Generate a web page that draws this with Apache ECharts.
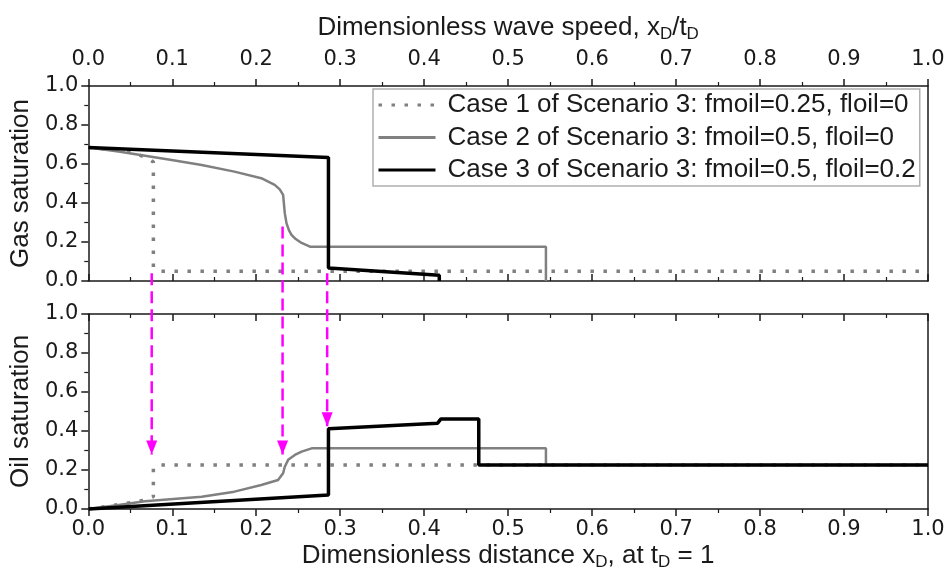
<!DOCTYPE html>
<html>
<head>
<meta charset="utf-8">
<script src="https://cdn.jsdelivr.net/npm/echarts@6/dist/echarts.min.js"></script>
<style>html,body{margin:0;padding:0;background:#fff}#c{width:948px;height:579px}</style>
</head>
<body>
<div id="c"></div>
<script>
// ---- data ----
const seriesNames = [
  'Case 1 of Scenario 3: fmoil=0.25, floil=0',
  'Case 2 of Scenario 3: fmoil=0.5, floil=0',
  'Case 3 of Scenario 3: fmoil=0.5, floil=0.2'
];
// Gas saturation (top panel)
const case1GasX = [0, 0.03, 0.055, 0.068, 0.0775, 0.0775, 0.085, 1.0];
const case1GasY = [0.685, 0.672, 0.655, 0.635, 0.61, 0.07, 0.05, 0.05];
const case2GasX = [0, 0.036, 0.0993, 0.135, 0.174, 0.206, 0.222, 0.228, 0.232, 0.234, 0.236, 0.239, 0.242, 0.247, 0.254, 0.264, 0.545, 0.545];
const case2GasY = [0.685, 0.664, 0.621, 0.595, 0.561, 0.527, 0.493, 0.47, 0.442, 0.348, 0.297, 0.26, 0.237, 0.215, 0.195, 0.176, 0.176, 0];
const case3GasX = [0, 0.286, 0.286, 0.418, 0.418];
const case3GasY = [0.685, 0.633, 0.067, 0.03, 0];
// Oil saturation (bottom panel)
const case1OilX = [0, 0.04, 0.0675, 0.0775, 0.0775, 0.083, 1.0];
const case1OilY = [0, 0.025, 0.046, 0.063, 0.209, 0.226, 0.226];
const case2OilX = [0, 0.036, 0.0675, 0.135, 0.174, 0.206, 0.226, 0.232, 0.234, 0.238, 0.246, 0.254, 0.266, 0.545, 0.545, 1.0];
const case2OilY = [0, 0.02, 0.04, 0.063, 0.089, 0.123, 0.149, 0.183, 0.217, 0.252, 0.277, 0.294, 0.311, 0.311, 0.226, 0.226];
const case3OilX = [0, 0.286, 0.286, 0.416, 0.42, 0.465, 0.465, 1.0];
const case3OilY = [0, 0.072, 0.412, 0.44, 0.462, 0.462, 0.226, 0.226];
// Magenta arrows: from gas panel value down to oil panel value
const arrowX = [0.0775, 0.233, 0.286];
const arrowFromGas = [0.04, 0.28, 0.04];
const arrowToOil = [0.28, 0.28, 0.425];

// ---- layout ----
const LEFT = 86.5, PLOT_W = 841.5, TOP = 86, PLOT_H = 195, GAP = 33;
const BOTTOM_TOP = TOP + PLOT_H + GAP;
const OFFSET = 1 + GAP / PLOT_H; // top-panel value offset in overlay units

const zip = (xs, ys) => xs.map((x, i) => [x, ys[i]]);
const fmt = v => v.toFixed(1);
const tickFont = { fontFamily: 'DejaVu Sans', fontSize: 21, color: '#1a1a1a' };
const titleFont = { fontFamily: 'Liberation Sans', fontSize: 26, color: '#1a1a1a' };
const axisLine = { show: true, onZero: false, lineStyle: { color: '#1a1a1a', width: 1.5 } };
const subRich = {
  sub: { fontFamily: 'Liberation Sans', fontSize: 17, lineHeight: 14, verticalAlign: 'bottom', color: '#1a1a1a' }
};

function xAxis(gridIndex, position, labeled, inside, name, nameGap, margin) {
  return {
    type: 'value', gridIndex, position, min: 0, max: 1, interval: 0.1,
    axisLine,
    axisTick: { show: true, inside, length: 7, lineStyle: { color: '#1a1a1a', width: 1.5 } },
    minorTick: { show: true, splitNumber: 2, length: 4, lineStyle: { color: '#1a1a1a', width: 1.2 } },
    splitLine: { show: false },
    axisLabel: Object.assign({ show: labeled, formatter: fmt, margin: margin || 12 }, tickFont),
    name: name || '', nameLocation: 'middle', nameGap: nameGap || 0,
    nameTextStyle: Object.assign({ lineHeight: 30, rich: subRich }, titleFont)
  };
}
function yAxis(gridIndex, position, labeled, name) {
  return {
    type: 'value', gridIndex, position, min: 0, max: 1, interval: 0.2,
    axisLine,
    axisTick: { show: labeled, length: 7, lineStyle: { color: '#1a1a1a', width: 1.5 } },
    minorTick: { show: labeled, splitNumber: 2, length: 4, lineStyle: { color: '#1a1a1a', width: 1.2 } },
    splitLine: { show: false },
    axisLabel: Object.assign({ show: labeled, formatter: fmt, margin: 10 }, tickFont),
    name: name || '', nameLocation: 'middle', nameGap: 48,
    nameTextStyle: Object.assign({ lineHeight: 26 }, titleFont)
  };
}

const styles = [
  { color: '#808080', width: 3.5, type: [3.5, 9.5] },
  { color: '#808080', width: 2.5, type: 'solid' },
  { color: '#000000', width: 3.5, type: 'solid' }
];
function lineSeries(i, data, xi, yi) {
  return {
    type: 'line', name: seriesNames[i], data, xAxisIndex: xi, yAxisIndex: yi,
    showSymbol: false, symbol: 'none', smooth: false, clip: false,
    lineStyle: styles[i], itemStyle: { color: styles[i].color }, z: 2 + i
  };
}

const series = [
  lineSeries(0, zip(case1GasX, case1GasY), 0, 0),
  lineSeries(1, zip(case2GasX, case2GasY), 0, 0),
  lineSeries(2, zip(case3GasX, case3GasY), 0, 0),
  lineSeries(0, zip(case1OilX, case1OilY), 2, 2),
  lineSeries(1, zip(case2OilX, case2OilY), 2, 2),
  lineSeries(2, zip(case3OilX, case3OilY), 2, 2)
];
arrowX.forEach((x, i) => {
  series.push({
    type: 'line', name: 'arrow' + i, xAxisIndex: 4, yAxisIndex: 4, silent: true, z: 6,
    showSymbol: true, clip: false,
    lineStyle: { color: '#ff00ff', width: 2.5, type: [12, 6] },
    itemStyle: { color: '#ff00ff' },
    data: [
      { value: [x, arrowFromGas[i] + OFFSET], symbol: 'none' },
      { value: [x, arrowToOil[i]], symbol: 'triangle', symbolSize: [11, 14], symbolRotate: 180, symbolOffset: [0, -7] }
    ]
  });
});

const option = {
  animation: false,
  backgroundColor: '#ffffff',
  textStyle: { fontFamily: 'Liberation Sans' },
  grid: [
    { left: LEFT, width: PLOT_W, top: TOP, height: PLOT_H },
    { left: LEFT, width: PLOT_W, top: BOTTOM_TOP, height: PLOT_H },
    { left: LEFT, width: PLOT_W, top: TOP, height: 2 * PLOT_H + GAP }
  ],
  xAxis: [
    xAxis(0, 'top', true, false, 'Dimensionless wave speed, x{sub|D}/t{sub|D}', 43, 16),
    xAxis(0, 'bottom', false, true),
    xAxis(1, 'bottom', true, false, 'Dimensionless distance x{sub|D}, at t{sub|D} = 1', 31, 10),
    xAxis(1, 'top', false, true),
    { type: 'value', gridIndex: 2, min: 0, max: 1, show: false }
  ],
  yAxis: [
    yAxis(0, 'left', true, 'Gas saturation'),
    yAxis(0, 'right', false),
    yAxis(1, 'left', true, 'Oil saturation'),
    yAxis(1, 'right', false),
    { type: 'value', gridIndex: 2, min: 0, max: 1 + OFFSET, show: false }
  ],
  legend: {
    data: seriesNames, orient: 'vertical', left: 373, top: 89,
    itemWidth: 57, itemHeight: 14, itemGap: 6.5, padding: [3, 4, 3, 4],
    borderColor: '#b0b0b0', borderWidth: 1.5, backgroundColor: '#ffffff',
    selectedMode: false,
    itemStyle: { opacity: 0, borderWidth: 0 },
    lineStyle: { width: 3 },
    textStyle: { fontFamily: 'Liberation Sans', fontSize: 26, lineHeight: 26, color: '#1a1a1a', padding: [0, 0, 0, 7] }
  },
  series
};
echarts.init(document.getElementById('c'), null, { renderer: 'canvas' }).setOption(option);
</script>
</body>
</html>
